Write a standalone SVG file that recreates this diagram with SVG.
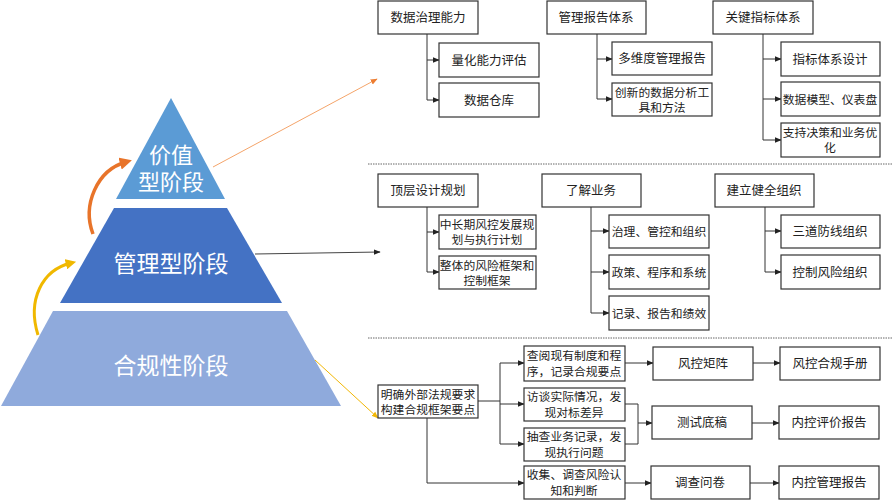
<svg xmlns="http://www.w3.org/2000/svg" width="895" height="500" viewBox="0 0 895 500">
<style>
.b{fill:#fff;stroke:#333;stroke-width:1.2}
.t{font-family:"Noto Sans CJK SC",sans-serif;font-size:12.5px;fill:#222;text-anchor:middle}
.s{font-family:"Noto Sans CJK SC",sans-serif;font-size:11.8px;fill:#222;text-anchor:middle}
.c{fill:none;stroke:#333;stroke-width:1}
.p{font-family:"Noto Sans CJK SC",sans-serif;fill:#fff;text-anchor:middle}
.d{stroke:#666;stroke-width:1;stroke-dasharray:1.5 1}
</style>
<defs>
<marker id="a" viewBox="0 0 10 10" refX="9" refY="5" markerWidth="7" markerHeight="7" orient="auto"><path d="M0,1 L10,5 L0,9 z" fill="#222"/></marker>
<marker id="ao" viewBox="0 0 10 10" refX="9" refY="5" markerWidth="7" markerHeight="7" orient="auto"><path d="M0,1 L10,5 L0,9 z" fill="#ED7D31"/></marker>
<marker id="ay" viewBox="0 0 10 10" refX="9" refY="5" markerWidth="7" markerHeight="7" orient="auto"><path d="M0,1 L10,5 L0,9 z" fill="#F2B705"/></marker>
<marker id="ao2" viewBox="0 0 10 10" refX="5" refY="5" markerWidth="3.5" markerHeight="3.5" orient="auto"><path d="M0,0 L10,5 L0,10 z" fill="#E8742A"/></marker>
<marker id="ay2" viewBox="0 0 10 10" refX="5" refY="5" markerWidth="3.5" markerHeight="3.5" orient="auto"><path d="M0,0 L10,5 L0,10 z" fill="#F0B800"/></marker>
</defs>
<g id="pyramid">
<polygon points="171,98 225,199 116,199" fill="#5B9BD5"/>
<polygon points="114,208 227,208 282,303 60,303" fill="#4472C4"/>
<polygon points="53,311 287,311 341,406 1,406" fill="#8FAADC"/>
<text class="p" x="171" y="163" font-size="22">价值</text>
<text class="p" x="171" y="190" font-size="22">型阶段</text>
<text class="p" x="171" y="272" font-size="23">管理型阶段</text>
<text class="p" x="171" y="374" font-size="23">合规性阶段</text>
<path d="M93,234 C82,205 97,170 126,162" fill="none" stroke="#E8742A" stroke-width="3.5" marker-end="url(#ao2)"/>
<path d="M38,335 C27,300 42,270 71,263" fill="none" stroke="#F0B800" stroke-width="3" marker-end="url(#ay2)"/>
</g>
<g id="seps">
<line class="d" x1="368" y1="164" x2="892" y2="164"/>
<line class="d" x1="368" y1="338" x2="892" y2="338"/>
</g>
<g id="connectors">
<line x1="213" y1="167" x2="377" y2="79" stroke="#F4A46A" stroke-width="1" marker-end="url(#ao)"/>
<line x1="255" y1="254" x2="380" y2="252" stroke="#444" stroke-width="1" marker-end="url(#a)"/>
<line x1="315" y1="360" x2="378" y2="418" stroke="#F2B705" stroke-width="1" marker-end="url(#ay)"/>
<path class="c" d="M427,34 V100"/>
<path class="c" d="M427,60 H439" marker-end="url(#a)"/>
<path class="c" d="M427,100 H439" marker-end="url(#a)"/>
<path class="c" d="M597,34 V99"/>
<path class="c" d="M597,59 H612" marker-end="url(#a)"/>
<path class="c" d="M597,99 H612" marker-end="url(#a)"/>
<path class="c" d="M763,34 V140"/>
<path class="c" d="M763,59 H781" marker-end="url(#a)"/>
<path class="c" d="M763,99 H781" marker-end="url(#a)"/>
<path class="c" d="M763,140 H781" marker-end="url(#a)"/>
<path class="c" d="M427,207 V272"/>
<path class="c" d="M427,232 H439" marker-end="url(#a)"/>
<path class="c" d="M427,272 H439" marker-end="url(#a)"/>
<path class="c" d="M591,207 V313"/>
<path class="c" d="M591,231 H609" marker-end="url(#a)"/>
<path class="c" d="M591,272 H609" marker-end="url(#a)"/>
<path class="c" d="M591,313 H609" marker-end="url(#a)"/>
<path class="c" d="M765,207 V272"/>
<path class="c" d="M765,231 H781" marker-end="url(#a)"/>
<path class="c" d="M765,272 H781" marker-end="url(#a)"/>
<path class="c" d="M478,401 H500" stroke-width="1.6"/>
<path class="c" d="M500,363 V444"/>
<path class="c" d="M500,363 H524" marker-end="url(#a)"/>
<path class="c" d="M500,404 H524" marker-end="url(#a)"/>
<path class="c" d="M500,444 H524" marker-end="url(#a)"/>
<path class="c" d="M427,418 V483 H524" marker-end="url(#a)"/>
<path class="c" d="M625,363 H653" marker-end="url(#a)"/>
<path class="c" d="M753,363 H780" marker-end="url(#a)"/>
<path class="c" d="M625,404 H638 V444 H625"/>
<path class="c" d="M638,423 H652" marker-end="url(#a)"/>
<path class="c" d="M752,423 H779" marker-end="url(#a)"/>
<path class="c" d="M625,483 H651" marker-end="url(#a)"/>
<path class="c" d="M750,483 H779" marker-end="url(#a)"/>
</g>
<g id="n1"><rect class="b" x="378" y="1" width="100" height="33"/><text class="t" x="428" y="22">数据治理能力</text></g>
<g id="n2"><rect class="b" x="439" y="43" width="100" height="34"/><text class="t" x="489" y="65">量化能力评估</text></g>
<g id="n3"><rect class="b" x="439" y="83" width="100" height="34"/><text class="t" x="489" y="105">数据仓库</text></g>
<g id="n4"><rect class="b" x="547" y="1" width="99" height="33"/><text class="t" x="596" y="22">管理报告体系</text></g>
<g id="n5"><rect class="b" x="612" y="42" width="100" height="33"/><text class="t" x="662" y="63">多维度管理报告</text></g>
<g id="n6"><rect class="b" x="612" y="83" width="100" height="33"/><text class="s" x="662" y="97">创新的数据分析工</text><text class="s" x="662" y="112">具和方法</text></g>
<g id="n7"><rect class="b" x="713" y="1" width="100" height="33"/><text class="t" x="763" y="22">关键指标体系</text></g>
<g id="n8"><rect class="b" x="781" y="42" width="99" height="34"/><text class="t" x="830" y="64">指标体系设计</text></g>
<g id="n9"><rect class="b" x="781" y="82" width="99" height="34"/><text class="s" x="830" y="104">数据模型、仪表盘</text></g>
<g id="n10"><rect class="b" x="781" y="123" width="99" height="34"/><text class="s" x="830" y="137">支持决策和业务优</text><text class="s" x="830" y="152">化</text></g>
<g id="n11"><rect class="b" x="378" y="174" width="100" height="33"/><text class="t" x="428" y="195">顶层设计规划</text></g>
<g id="n12"><rect class="b" x="439" y="215" width="97" height="34"/><text class="s" x="487" y="229">中长期风控发展规</text><text class="s" x="487" y="244">划与执行计划</text></g>
<g id="n13"><rect class="b" x="439" y="256" width="97" height="33"/><text class="s" x="487" y="270">整体的风险框架和</text><text class="s" x="487" y="285">控制框架</text></g>
<g id="n14"><rect class="b" x="542" y="174" width="99" height="33"/><text class="t" x="591" y="195">了解业务</text></g>
<g id="n15"><rect class="b" x="609" y="215" width="100" height="33"/><text class="s" x="659" y="236">治理、管控和组织</text></g>
<g id="n16"><rect class="b" x="609" y="255" width="100" height="34"/><text class="s" x="659" y="277">政策、程序和系统</text></g>
<g id="n17"><rect class="b" x="609" y="296" width="100" height="34"/><text class="s" x="659" y="318">记录、报告和绩效</text></g>
<g id="n18"><rect class="b" x="715" y="174" width="99" height="33"/><text class="t" x="764" y="195">建立健全组织</text></g>
<g id="n19"><rect class="b" x="781" y="215" width="99" height="33"/><text class="t" x="830" y="236">三道防线组织</text></g>
<g id="n20"><rect class="b" x="781" y="255" width="99" height="34"/><text class="t" x="830" y="277">控制风险组织</text></g>
<g id="n21"><rect class="b" x="378" y="385" width="100" height="33"/><text class="s" x="428" y="399">明确外部法规要求</text><text class="s" x="428" y="414">构建合规框架要点</text></g>
<g id="n22"><rect class="b" x="524" y="346" width="101" height="35"/><text class="s" x="574" y="360">查阅现有制度和程</text><text class="s" x="574" y="376">序，记录合规要点</text></g>
<g id="n23"><rect class="b" x="524" y="388" width="101" height="33"/><text class="s" x="574" y="401">访谈实际情况，发</text><text class="s" x="574" y="417">现对标差异</text></g>
<g id="n24"><rect class="b" x="524" y="428" width="101" height="33"/><text class="s" x="574" y="441">抽查业务记录，发</text><text class="s" x="574" y="457">现执行问题</text></g>
<g id="n25"><rect class="b" x="524" y="466" width="101" height="33"/><text class="s" x="574" y="479">收集、调查风险认</text><text class="s" x="574" y="495">知和判断</text></g>
<g id="n26"><rect class="b" x="653" y="347" width="100" height="33"/><text class="t" x="703" y="368">风控矩阵</text></g>
<g id="n27"><rect class="b" x="780" y="347" width="100" height="33"/><text class="t" x="830" y="368">风控合规手册</text></g>
<g id="n28"><rect class="b" x="652" y="406" width="100" height="33"/><text class="t" x="702" y="427">测试底稿</text></g>
<g id="n29"><rect class="b" x="779" y="406" width="100" height="33"/><text class="t" x="829" y="427">内控评价报告</text></g>
<g id="n30"><rect class="b" x="651" y="466" width="99" height="33"/><text class="t" x="700" y="487">调查问卷</text></g>
<g id="n31"><rect class="b" x="779" y="466" width="100" height="33"/><text class="t" x="829" y="487">内控管理报告</text></g>
</svg>
